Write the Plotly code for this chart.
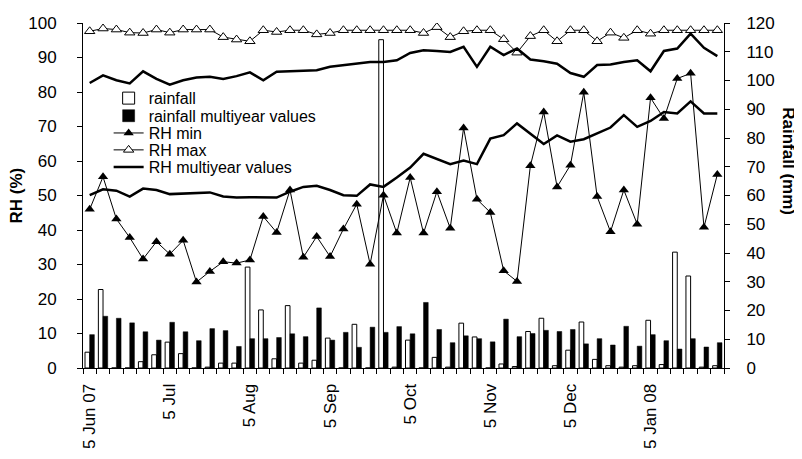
import plotly.graph_objects as go

# ---- data (pentads, 5 Jun 2007 - end Jan 2008) ----
month_names = [("Jun", " 07"), ("Jul", ""), ("Aug", ""), ("Sep", ""), ("Oct", ""),
               ("Nov", ""), ("Dec", ""), ("Jan", " 08")]
pentad_days = [5, 10, 15, 20, 25, 30]
categories = [f"{d} {m}{y}" for m, y in month_names for d in pentad_days]
month_tick_labels = ["5 Jun 07", "5 Jul", "5 Aug", "5 Sep", "5 Oct", "5 Nov", "5 Dec", "5 Jan 08"]

rainfall = [5.5, 27.3, 0, 0, 2.2, 4.6, 9.0, 5.0, 0, 0.3, 1.7, 1.7,
            35.1, 20.2, 3.2, 21.7, 1.7, 2.7, 10.4, 0, 15.2, 0, 114.2, 0.3,
            9.7, 0, 3.7, 0.3, 15.6, 10.8, 0, 1.4, 0.5, 12.7, 17.3, 0.8,
            6.2, 16.0, 3.0, 0.8, 0.3, 0.8, 16.6, 1.2, 40.3, 32.0, 0.3, 0.8]
rainfall_multiyear = [11.6, 18.0, 17.3, 15.7, 12.6, 9.7, 15.9, 12.6, 9.5, 13.7, 13.0, 7.5,
                      10.2, 10.2, 10.6, 11.9, 10.9, 20.9, 9.7, 12.4, 7.2, 14.2, 12.4, 14.4,
                      11.9, 22.8, 13.4, 8.8, 11.2, 10.2, 9.1, 17.0, 10.9, 12.0, 13.1, 12.7,
                      13.4, 8.4, 10.2, 8.0, 14.5, 7.6, 11.6, 9.5, 6.6, 10.2, 7.3, 8.8]
rh_min = [46.0, 55.4, 43.2, 37.8, 31.6, 36.6, 33.0, 37.0, 24.9, 28.0, 30.8, 30.4,
          31.3, 43.9, 39.3, 51.6, 32.1, 38.1, 32.3, 40.3, 47.5, 30.1, 50.1, 39.1,
          55.2, 39.1, 51.1, 40.5, 69.6, 48.9, 45.1, 28.2, 25.1, 58.6, 74.2, 52.5,
          58.8, 79.9, 49.7, 39.5, 51.6, 41.7, 78.3, 72.3, 83.9, 85.4, 40.8, 56.1]
rh_max = [97.6, 98.4, 98.1, 97.2, 97.1, 98.1, 97.2, 98.1, 98.1, 98.1, 95.9, 95.2,
          94.7, 97.9, 97.4, 97.9, 97.9, 96.7, 97.1, 97.9, 97.9, 97.9, 97.9, 97.9,
          97.9, 97.1, 98.8, 95.9, 97.6, 97.9, 97.9, 95.3, 91.4, 96.2, 97.9, 94.7,
          97.9, 97.9, 94.7, 97.2, 95.7, 97.9, 96.9, 97.9, 97.9, 97.9, 97.9, 97.9]
rh_multiyear_max = [82.6, 84.8, 83.4, 82.5, 86.0, 83.8, 82.1, 83.4, 84.2, 84.4, 83.8, 84.6,
                    85.7, 83.4, 85.9, 86.0, 86.2, 86.3, 87.3, 87.7, 88.3, 88.7, 88.7, 89.2,
                    91.3, 92.1, 91.9, 91.6, 93.1, 87.3, 93.1, 90.7, 92.6, 89.4, 88.9, 88.2,
                    85.5, 84.4, 87.8, 88.0, 88.7, 89.2, 86.0, 91.9, 92.6, 96.9, 92.8, 90.4]
rh_multiyear_min = [50.1, 51.8, 51.4, 49.7, 52.0, 51.6, 50.4, 50.6, 50.9, 50.9, 49.7, 49.4,
                    49.5, 49.5, 49.4, 51.1, 52.5, 52.8, 51.6, 50.1, 49.9, 53.2, 52.5, 55.2,
                    58.1, 62.1, 60.7, 59.1, 60.1, 59.1, 66.5, 67.5, 70.9, 68.0, 64.9, 67.4,
                    65.6, 66.3, 68.0, 69.7, 73.3, 69.9, 71.6, 74.2, 73.8, 77.3, 73.8, 73.8]

x = list(range(len(categories)))
tickvals = [i for i, c in enumerate(categories) if c.startswith("5 ")]

FONT = "Liberation Sans, Arial, sans-serif"

fig = go.Figure()
fig.add_trace(go.Bar(x=x, y=rainfall, name="rainfall", yaxis="y", legend="legend",
                     marker=dict(color="white", line=dict(color="black", width=1))))
fig.add_trace(go.Bar(x=x, y=rainfall_multiyear, name="rainfall multiyear values", yaxis="y",
                     legend="legend2",
                     marker=dict(color="black", line=dict(color="black", width=0.5))))
fig.add_trace(go.Scatter(x=x, y=rh_min, name="RH min", yaxis="y2", mode="lines+markers",
                         legend="legend3",
                         line=dict(color="black", width=1),
                         marker=dict(symbol="triangle-up", size=9, color="black")))
fig.add_trace(go.Scatter(x=x, y=rh_max, name="RH max", yaxis="y2", mode="lines+markers",
                         legend="legend4",
                         line=dict(color="black", width=1),
                         marker=dict(symbol="triangle-up", size=9, color="white",
                                     line=dict(color="black", width=1))))
fig.add_trace(go.Scatter(x=x, y=rh_multiyear_max, name="RH multiyear values", yaxis="y2",
                         mode="lines", legendgroup="multi", legend="legend5",
                         line=dict(color="black", width=2.5)))
fig.add_trace(go.Scatter(x=x, y=rh_multiyear_min, name="RH multiyear values", yaxis="y2",
                         mode="lines", legendgroup="multi", showlegend=False, legend="legend5",
                         line=dict(color="black", width=2.5)))

legend_style = dict(x=0.040, xanchor="left", yanchor="middle",
                    bgcolor="rgba(0,0,0,0)", borderwidth=0,
                    font=dict(size=16, family=FONT, color="black"))
row_y = [0.782, 0.731, 0.681, 0.632, 0.582]

# page body has an 8px default margin, so the figure is sized to fit inside the window
fig.update_layout(
    template="none",
    width=794, height=451,
    margin=dict(l=75, r=78, t=15, b=91, autoexpand=False),
    paper_bgcolor="white", plot_bgcolor="white",
    font=dict(family=FONT, size=17, color="black"),
    barmode="group", bargap=0.3, bargroupgap=0,
    showlegend=True,
    legend=dict(y=row_y[0], **legend_style),
    legend2=dict(y=row_y[1], **legend_style),
    legend3=dict(y=row_y[2], **legend_style),
    legend4=dict(y=row_y[3], **legend_style),
    legend5=dict(y=row_y[4], **legend_style),
    xaxis=dict(range=[-0.5, 47.5], showgrid=False, zeroline=False, automargin=False,
               showline=True, linecolor="black", linewidth=1,
               tickmode="array", tickvals=tickvals, ticktext=month_tick_labels,
               tickangle=-90, ticks="", ticklabelstandoff=8,
               tickfont=dict(size=17),
               minor=dict(ticks="outside", ticklen=5, tickwidth=1, tickcolor="black",
                          tick0=-0.5, dtick=1, showgrid=False)),
    yaxis=dict(side="right", range=[0, 120], dtick=10, showgrid=False, zeroline=False,
               automargin=False,
               showline=True, linecolor="black", linewidth=1,
               ticks="outside", ticklen=5, tickcolor="black", ticklabelstandoff=13,
               tickfont=dict(size=17)),
    yaxis2=dict(side="left", overlaying="y", range=[0, 100], dtick=10, showgrid=False,
                automargin=False,
                zeroline=False, showline=True, linecolor="black", linewidth=1,
                ticks="outside", ticklen=5, tickcolor="black", ticklabelstandoff=17,
                tickfont=dict(size=17)),
    annotations=[
        dict(text="<b>RH (%)</b>", xref="paper", yref="paper", x=-0.103, y=0.5,
             textangle=-90, showarrow=False, font=dict(size=17),
             xanchor="center", yanchor="middle"),
        dict(text="<b>Rainfall (mm)</b>", xref="paper", yref="paper", x=1.101, y=0.6,
             textangle=90, showarrow=False, font=dict(size=17),
             xanchor="center", yanchor="middle"),
    ],
)

fig.write_html("out.html")
